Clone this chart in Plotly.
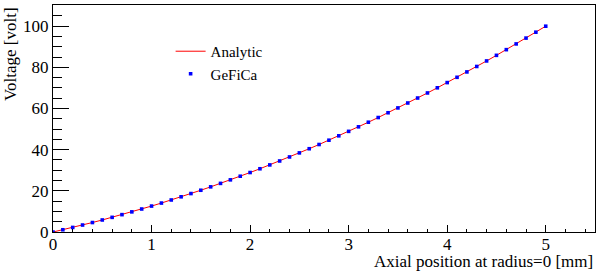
import plotly.graph_objects as go

# Axial position [mm]
x_pos = [0.0, 0.1, 0.2, 0.3, 0.4, 0.5, 0.6, 0.7, 0.8, 0.9,
         1.0, 1.1, 1.2, 1.3, 1.4, 1.5, 1.6, 1.7, 1.8, 1.9,
         2.0, 2.1, 2.2, 2.3, 2.4, 2.5, 2.6, 2.7, 2.8, 2.9,
         3.0, 3.1, 3.2, 3.3, 3.4, 3.5, 3.6, 3.7, 3.8, 3.9,
         4.0, 4.1, 4.2, 4.3, 4.4, 4.5, 4.6, 4.7, 4.8, 4.9, 5.0]

# Analytic voltage [volt]
v_analytic = [0.0, 1.09, 2.22, 3.39, 4.60, 5.84, 7.12, 8.43, 9.78, 11.17,
              12.60, 14.06, 15.56, 17.10, 18.68, 20.29, 21.94, 23.62, 25.34, 27.10,
              28.90, 30.73, 32.60, 34.51, 36.46, 38.44, 40.46, 42.51, 44.60, 46.73,
              48.90, 51.10, 53.34, 55.62, 57.94, 60.29, 62.68, 65.10, 67.56, 70.06,
              72.60, 75.17, 77.78, 80.43, 83.12, 85.84, 88.60, 91.39, 94.22, 97.09, 100.0]

# GeFiCa voltage [volt]
v_gefica = [0.0, 1.09, 2.22, 3.39, 4.60, 5.84, 7.12, 8.43, 9.78, 11.17,
            12.60, 14.06, 15.56, 17.10, 18.68, 20.29, 21.94, 23.62, 25.34, 27.10,
            28.90, 30.73, 32.60, 34.51, 36.46, 38.44, 40.46, 42.51, 44.60, 46.73,
            48.90, 51.10, 53.34, 55.62, 57.94, 60.29, 62.68, 65.10, 67.56, 70.06,
            72.60, 75.17, 77.78, 80.43, 83.12, 85.84, 88.60, 91.39, 94.22, 97.09, 100.0]

x_ticks = [0, 1, 2, 3, 4, 5]
y_ticks = [0, 20, 40, 60, 80, 100]

FONT = "Liberation Serif, Times New Roman, serif"

fig = go.Figure()
fig.add_trace(go.Scatter(x=x_pos, y=v_analytic, mode="lines", name="Analytic",
                         line=dict(color="red", width=1)))
fig.add_trace(go.Scatter(x=x_pos, y=v_gefica, mode="markers", name="GeFiCa",
                         marker=dict(color="blue", symbol="square", size=3.6, line=dict(width=0))))

fig.update_layout(
    template="none",
    width=598, height=274,
    margin=dict(l=53, r=3, t=5, b=42, autoexpand=False),
    paper_bgcolor="white", plot_bgcolor="white",
    font=dict(family=FONT, size=17, color="black"),
    showlegend=True,
    legend=dict(x=0.217, y=0.868, xanchor="left", yanchor="top",
                bgcolor="rgba(0,0,0,0)", font=dict(family=FONT, size=15),
                itemwidth=30),
    xaxis=dict(range=[0, 5.5], tickvals=x_ticks, ticktext=[str(t) for t in x_ticks],
               ticks="inside", ticklen=7, tickwidth=1, tickcolor="black",
               ticklabelstandoff=-3,
               minor=dict(dtick=0.2, ticks="inside", ticklen=3, tickcolor="black", showgrid=False),
               showline=True, linecolor="black", linewidth=1, mirror=True, automargin=False,
               showgrid=False, zeroline=False, tickfont=dict(family=FONT, size=17)),
    yaxis=dict(range=[0, 110.3], tickvals=y_ticks, ticktext=[str(t) for t in y_ticks],
               ticks="inside", ticklen=16, tickwidth=1, tickcolor="black",
               minor=dict(dtick=5, ticks="inside", ticklen=9, tickcolor="black", showgrid=False),
               showline=True, linecolor="black", linewidth=1, mirror=True, automargin=False,
               showgrid=False, zeroline=False, tickfont=dict(family=FONT, size=17)),
    annotations=[
        dict(text="Axial position at radius=0 [mm]", xref="paper", yref="paper",
             x=1.0, y=-0.132, xanchor="right", yanchor="middle", showarrow=False,
             font=dict(family=FONT, size=17)),
        dict(text="Voltage [volt]", xref="paper", yref="paper",
             x=-0.0793, y=1.0, xanchor="center", yanchor="top", textangle=-90,
             showarrow=False, font=dict(family=FONT, size=17)),
    ],
)

fig.write_html("out.html", config={"displayModeBar": False},
               post_script="document.body.style.margin='0';")
